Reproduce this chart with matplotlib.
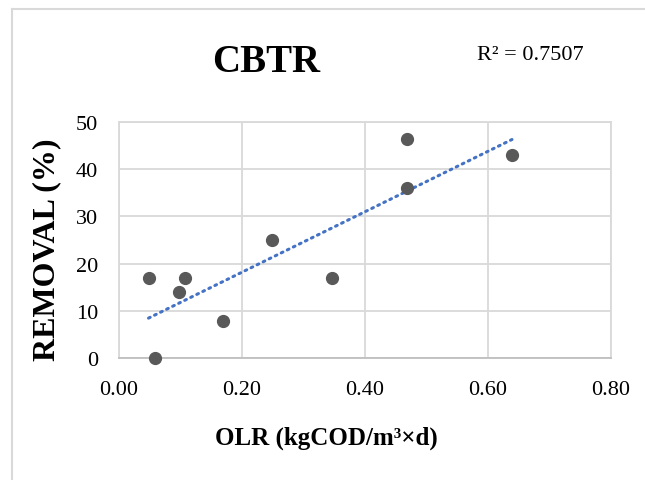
import numpy as np
import matplotlib
matplotlib.use('Agg')
import matplotlib.pyplot as plt
from matplotlib.lines import Line2D

# CBTR: eliminación (%) frente a carga orgánica (OLR)

olr = [0.048, 0.108, 0.098, 0.169, 0.058, 0.248, 0.347, 0.468, 0.468, 0.639]
removal = [17.0, 17.0, 13.9, 7.9, 0.0, 25.0, 17.0, 46.5, 36.1, 43.1]
x_ticks = [0.0, 0.2, 0.4, 0.6, 0.8]
y_ticks = [0, 10, 20, 30, 40, 50]
r2_text = 'R² = 0.7507'

plt.rcParams['font.family'] = ['Liberation Serif', 'DejaVu Serif']

fig = plt.figure(figsize=(6.45, 4.81), dpi=100)
ax = fig.add_axes([119 / 645, 1 - 359 / 481, 492 / 645, 236 / 481])

# borde del gráfico (estilo Excel)
fig.add_artist(Line2D([12 / 645, 1], [1 - 10 / 481] * 2, color='#d9d9d9', lw=1.5,
                      transform=fig.transFigure))
fig.add_artist(Line2D([12 / 645] * 2, [0, 1 - 10 / 481], color='#d9d9d9', lw=1.5,
                      transform=fig.transFigure))

# línea de tendencia lineal
m, b = np.polyfit(olr, removal, 1)
xs = np.array([min(olr), max(olr)])
ax.plot(xs, m * xs + b, color='#4472C4', lw=2.2, linestyle=(0, (0.6, 1.6)),
        dash_capstyle='round', zorder=2)

ax.plot(olr, removal, 'o', color='#595959', markersize=8.5, zorder=3, clip_on=False)

ax.set_xlim(0, 0.8)
ax.set_ylim(0, 50)
ax.set_xticks(x_ticks)
ax.set_yticks(y_ticks)
ax.set_xticklabels(['%.2f' % v for v in x_ticks])
ax.grid(True, color='#d9d9d9', lw=1.3)
ax.set_axisbelow(True)
for s in ax.spines.values():
    s.set_color('#d9d9d9')
    s.set_linewidth(1.3)
ax.spines['bottom'].set_color('#bfbfbf')
ax.tick_params(length=0, labelsize=16)
ax.tick_params(axis='x', pad=16)
ax.tick_params(axis='y', pad=15)

fig.text(266 / 645, 1 - 63 / 481, 'CBTR', fontsize=28, fontweight='bold',
         ha='center', va='center')
fig.text(530 / 645, 1 - 55 / 481, r2_text, fontsize=16, ha='center', va='center')
fig.text(326 / 645, 1 - 438 / 481, 'OLR (kgCOD/m³×d)', fontsize=18, fontweight='bold',
         ha='center', va='center')
fig.text(47 / 645, 1 - 250 / 481, 'REMOVAL (%)', fontsize=23, fontweight='bold',
         ha='center', va='center', rotation=90)

plt.savefig('out.png', dpi=100)
